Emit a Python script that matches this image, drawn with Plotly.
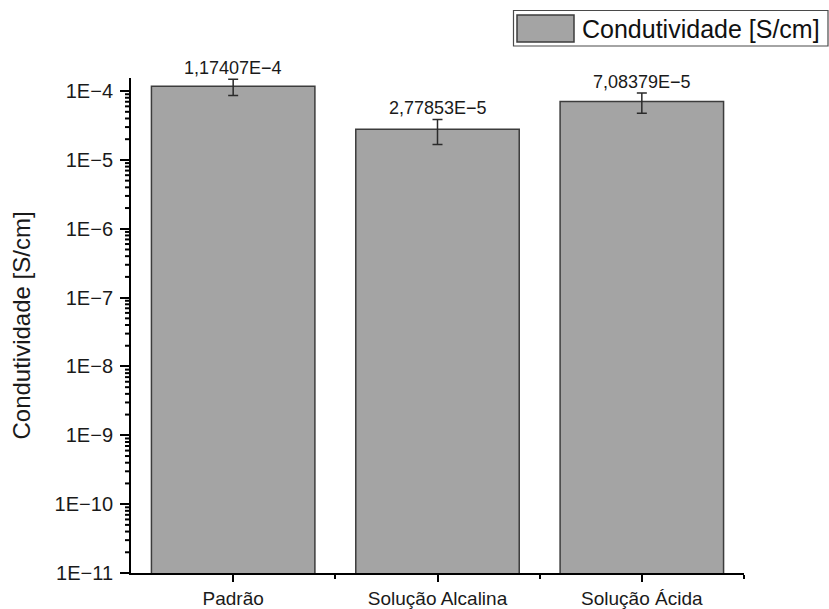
import math
import plotly.graph_objects as go

# Conductivity of each sample (S/cm) with its standard deviation
categories = ["Padrão", "Solução Alcalina", "Solução Ácida"]
conductivity = [1.17407e-4, 2.77853e-5, 7.08379e-5]
conductivity_err = [3.1e-5, 1.1e-5, 2.3e-5]

series_name = "Condutividade [S/cm]"

W, H = 829, 609
M_L, M_R, M_T, M_B = 131, 85, 78, 36
Y_BOTTOM, Y_TOP = -11, -3.81
FONT = "Liberation Sans, Arial, sans-serif"
BAR_FILL = "#a4a4a4"
BAR_EDGE = "#3c3c3c"
PLOT_W = W - M_L - M_R
PLOT_H = H - M_T - M_B


def sci_label(v):
    """Format a value like 1,17407E−4 (comma decimal, true minus sign)."""
    exp = math.floor(math.log10(v))
    mant = v / 10 ** exp
    sign = "\u2212" if exp < 0 else ""
    return f"{mant:.5f}".replace(".", ",") + f"E{sign}{abs(exp)}"


def px_x(px):
    return (px - M_L) / PLOT_W


def px_y(py):
    return (H - M_B - py) / PLOT_H


def log_frac(v):
    """Fraction of the y-axis height at which value v sits."""
    return (math.log10(v) - Y_BOTTOM) / (Y_TOP - Y_BOTTOM)


xs = list(range(len(categories)))

fig = go.Figure()
fig.add_trace(go.Bar(
    x=xs,
    y=conductivity,
    width=0.8,
    name=series_name,
    marker=dict(color=BAR_FILL, line=dict(color=BAR_EDGE, width=1.5)),
    error_y=dict(type="data", array=conductivity_err, visible=True,
                 color="#2a2a2a", thickness=1.5, width=5),
    showlegend=False,
))

# value labels above each error bar
for x, v, e in zip(xs, conductivity, conductivity_err):
    fig.add_annotation(
        x=x, y=math.log10(v + e), xref="x", yref="y",
        text=sci_label(v), showarrow=False,
        yanchor="middle", yshift=11,
        font=dict(family=FONT, size=18, color="#1a1a1a"),
    )

# minor log ticks (2..9 of each decade) drawn just left of the y axis line
minor_shapes = []
for e in range(Y_BOTTOM, math.ceil(Y_TOP)):
    for k in range(2, 10):
        f = log_frac(k * 10.0 ** e)
        if f <= 1:
            minor_shapes.append(dict(
                type="line", xref="paper", yref="paper",
                x0=px_x(M_L - 6), x1=px_x(M_L), y0=f, y1=f,
                line=dict(color="black", width=2), layer="above"))

# boxed legend with a large swatch
legend_shapes = [
    dict(type="rect", xref="paper", yref="paper",
         x0=px_x(513.5), x1=px_x(828), y0=px_y(46), y1=px_y(10.5),
         line=dict(color="#4a4a4a", width=1.2), fillcolor="white"),
    dict(type="rect", xref="paper", yref="paper",
         x0=px_x(517), x1=px_x(574), y0=px_y(42), y1=px_y(15),
         line=dict(color=BAR_EDGE, width=1.5), fillcolor=BAR_FILL),
]
fig.add_annotation(xref="paper", yref="paper", x=px_x(580), y=px_y(29),
                   xanchor="left", yanchor="middle", showarrow=False,
                   text=series_name,
                   font=dict(family=FONT, size=25, color="#111111"))

fig.update_layout(
    width=W, height=H,
    margin=dict(l=M_L, r=M_R, t=M_T, b=M_B, autoexpand=False),
    paper_bgcolor="white", plot_bgcolor="white",
    font=dict(family=FONT, color="#1a1a1a"),
    bargap=0.2,
    shapes=minor_shapes + legend_shapes,
    xaxis=dict(
        range=[-0.5, len(categories) - 0.5],
        tickmode="array", tickvals=xs, ticktext=categories,
        showline=True, linecolor="black", linewidth=2,
        ticks="outside", ticklen=7, tickwidth=2, tickcolor="black",
        minor=dict(tickmode="array", tickvals=[x + 0.5 for x in xs],
                   ticks="outside", ticklen=4, tickwidth=2, tickcolor="black"),
        showgrid=False, zeroline=False, automargin=False,
        tickfont=dict(family=FONT, size=19, color="#1a1a1a"),
        fixedrange=True,
    ),
    # labelled decade ticks
    yaxis=dict(
        type="log",
        range=[Y_BOTTOM, Y_TOP],
        tickmode="linear", tick0=0, dtick=1,
        exponentformat="E", showexponent="all",
        showline=True, linecolor="black", linewidth=2,
        ticks="outside", ticklen=9, tickwidth=2, tickcolor="black",
        ticklabelstandoff=3,
        showgrid=False, zeroline=False, automargin=False,
        tickfont=dict(family=FONT, size=20, color="#1a1a1a"),
        title=dict(text=series_name, standoff=17,
                   font=dict(family=FONT, size=24, color="#1a1a1a")),
        fixedrange=True,
    ),
)

fig.write_html("out.html")
